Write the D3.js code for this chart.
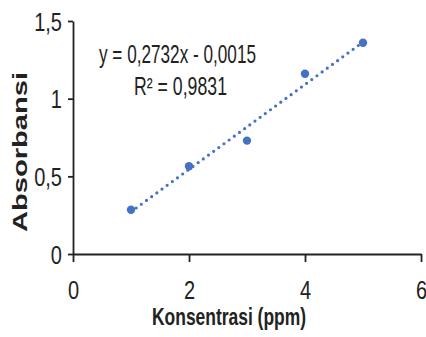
<!DOCTYPE html>
<html>
<head>
<meta charset="utf-8">
<script src="https://cdn.jsdelivr.net/npm/d3@7"></script>
<style>
  body { margin: 0; background: #fff; }
  svg { display: block; font-family: "Liberation Sans", Arial, sans-serif; }
</style>
</head>
<body>
<svg></svg>
<script>
var svg_width = 426;
var svg_height = 337;

// data
var konsentrasi = [1, 2, 3, 4, 5];
var absorbansi = [0.285, 0.565, 0.73, 1.16, 1.36];
var x_ticks = [0, 2, 4, 6];
var y_ticks = [0, 0.5, 1, 1.5];
var trend_coef = [0.2732, -0.0015];   // slope, intercept
var trend_range = [1, 5];
var eq_lines = ["y = 0,2732x - 0,0015", "R\u00b2 = 0,9831"];
var x_title = "Konsentrasi (ppm)";
var y_title = "Absorbansi";

var blue = "#4472c4";
var ink = "#222";

var svg = d3.select("svg")
  .attr("width", svg_width)
  .attr("height", svg_height);

var xScale = d3.scaleLinear().domain([0, 6]).range([73, 421]);
var yScale = d3.scaleLinear().domain([0, 1.5]).range([254, 21]);

var fmt = function(d) { return String(d).replace(".", ","); };

// y axis
var gy = svg.append("g")
  .attr("transform", "translate(" + xScale(0) + ",0)")
  .call(d3.axisLeft(yScale).tickValues(y_ticks).tickSize(5).tickSizeOuter(0).tickFormat(fmt));

gy.selectAll("text")
  .attr("x", 0).attr("dy", null)
  .attr("transform", "translate(-11,9) scale(0.8,1.05)")
  .style("font-size", "25px")
  .attr("fill", ink);

// x axis
var gx = svg.append("g")
  .attr("transform", "translate(0," + yScale(0) + ")")
  .call(d3.axisBottom(xScale).tickValues(x_ticks).tickSize(8).tickSizeOuter(0).tickFormat(fmt));

gx.selectAll("text")
  .attr("y", 0).attr("dy", null)
  .attr("transform", "translate(0,45) scale(0.8,1.05)")
  .style("font-size", "25px")
  .attr("fill", ink);

svg.selectAll(".domain, .tick line")
  .attr("stroke", "#222")
  .attr("stroke-width", 1.8);

// trendline (dotted)
var trend = trend_range.map(function(x) {
  return [x, trend_coef[0] * x + trend_coef[1]];
});

svg.append("path")
  .datum(trend)
  .attr("d", d3.line()
    .x(function(d) { return xScale(d[0]); })
    .y(function(d) { return yScale(d[1]); }))
  .attr("fill", "none")
  .attr("stroke", blue)
  .attr("stroke-width", 3.2)
  .attr("stroke-linecap", "round")
  .attr("stroke-dasharray", "0,6.4");

// points
svg.selectAll("circle.pt")
  .data(konsentrasi)
  .enter()
  .append("circle")
  .attr("class", "pt")
  .attr("cx", function(d) { return xScale(d); })
  .attr("cy", function(d, i) { return yScale(absorbansi[i]); })
  .attr("r", 4.2)
  .attr("fill", blue);

// equation label
var eq_pos = [[177.5, 63, 157], [180.5, 95, 93]];
svg.selectAll("text.eq")
  .data(eq_lines)
  .enter()
  .append("text")
  .attr("class", "eq")
  .attr("x", function(d, i) { return eq_pos[i][0]; })
  .attr("y", function(d, i) { return eq_pos[i][1]; })
  .attr("text-anchor", "middle")
  .attr("textLength", function(d, i) { return eq_pos[i][2]; })
  .attr("lengthAdjust", "spacingAndGlyphs")
  .style("font-size", "26px")
  .attr("fill", ink)
  .text(function(d) { return d; });

// axis titles
svg.append("text")
  .attr("x", 229)
  .attr("y", 325)
  .attr("text-anchor", "middle")
  .attr("textLength", 154)
  .attr("lengthAdjust", "spacingAndGlyphs")
  .style("font-size", "24px")
  .style("font-weight", "bold")
  .attr("fill", ink)
  .text(x_title);

svg.append("text")
  .attr("transform", "translate(27,152) rotate(-90)")
  .attr("text-anchor", "middle")
  .attr("textLength", 160)
  .attr("lengthAdjust", "spacingAndGlyphs")
  .style("font-size", "20px")
  .style("font-weight", "bold")
  .attr("fill", ink)
  .text(y_title);
</script>
</body>
</html>
